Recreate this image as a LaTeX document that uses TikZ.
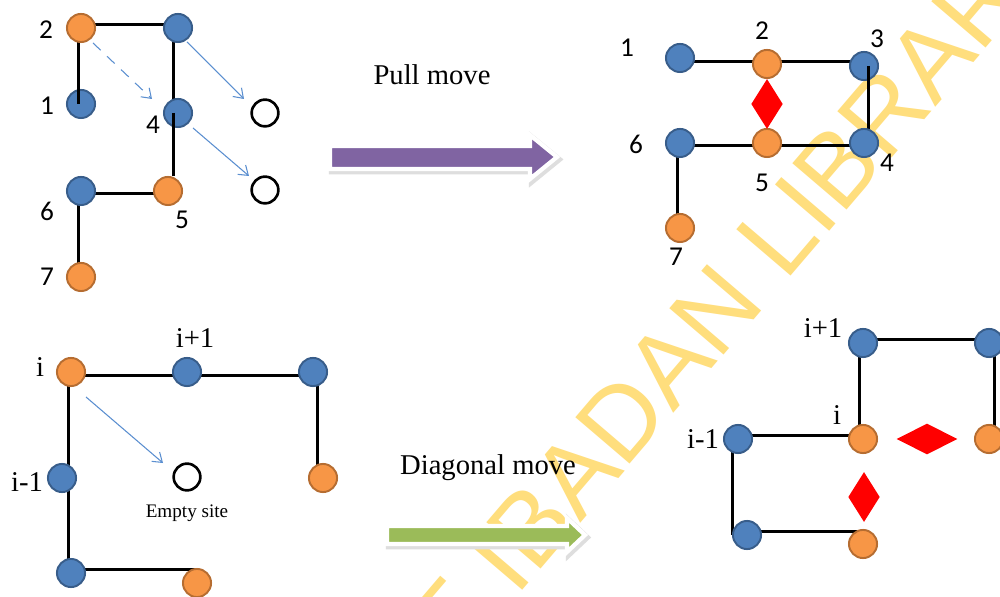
\documentclass[tikz,border=0pt]{standalone}
\usepackage{fontspec}
\setmainfont{Liberation Serif}
\newfontfamily\calfont{Carlito}
\newfontfamily\wmfont{Liberation Sans}
\usetikzlibrary{shapes.geometric,arrows.meta}
\pgfdeclarelayer{wmlayer}
\pgfdeclarelayer{bglayer}
\pgfsetlayers{wmlayer,bglayer,main}
\definecolor{nblue}{HTML}{4F81BD}
\definecolor{nblueD}{HTML}{385D8A}
\definecolor{norange}{HTML}{F79646}
\definecolor{norangeD}{HTML}{B66D31}
\definecolor{arrowblue}{HTML}{5B8FD0}
\definecolor{mvpurple}{HTML}{8064A2}
\definecolor{mvgreen}{HTML}{9BBB59}
\definecolor{wmyellow}{RGB}{255,222,125}
\begin{document}
\begin{tikzpicture}[x=0.02cm,y=-0.02cm,
  bnode/.style={circle,fill=nblue,draw=nblueD,line width=1.1pt,minimum size=16pt,inner sep=0pt},
  onode/.style={circle,fill=norange,draw=norangeD,line width=1.1pt,minimum size=16pt,inner sep=0pt},
  enode/.style={circle,draw=black,line width=1.5pt,minimum size=15.2pt,inner sep=0pt},
  link/.style={line width=1.7pt,draw=black},
  num/.style={font=\calfont\fontsize{15.5}{18}\selectfont,inner sep=0pt},
  tlab/.style={font=\fontsize{16.3}{19}\selectfont,inner sep=0pt},
  slab/.style={font=\fontsize{10.9}{13}\selectfont,inner sep=0pt},
  movearrow/.style={draw=arrowblue,line width=0.6pt,-{Straight Barb[length=5pt,width=7pt]}},
  redmark/.style={diamond,fill=red,inner sep=0pt},
  blockshadow/.style={fill=black!13,draw=black!13,line width=3.4pt,line join=miter,xshift=1pt,yshift=-1.4pt},
  blockarrow/.style={draw=white,line width=2.4pt,line join=miter},
  wmtext/.style={font=\wmfont\fontsize{59}{66}\selectfont,text=wmyellow,inner sep=0pt}
]
\useasboundingbox (0,0) rectangle (1000,597);
\clip (0,0) rectangle (1000,597);

% background and watermark
\begin{pgfonlayer}{wmlayer}
\fill[white] (0,0) rectangle (1000,597);
\node[wmtext,rotate=49.5] (wmark) at (500,562) {UNIVERSITY OF IBADAN LIBRARY};
\end{pgfonlayer}

% ---------- top-left chain ----------
\node[onode] (a2) at (81,28) {};
\node[bnode] (a3) at (178,28) {};
\node[bnode] (a1) at (81,104) {};
\node[bnode] (a4) at (178,113) {};
\node[onode] (a5) at (168,191) {};
\node[bnode] (a6) at (81,191) {};
\node[onode] (a7) at (81,277) {};
\node[enode] (e1) at (265,113) {};
\node[enode] (e2) at (265,190) {};
\begin{pgfonlayer}{bglayer}
\draw[link] ([yshift=2pt]a2.center) -- ([yshift=2pt]a3.center);
\draw[link] ([xshift=-1.5pt]a2.center) -- ([xshift=-1.5pt]a1.center);
\draw[link] ([xshift=-2.5pt]a3.center) -- ([xshift=-2.5pt]a4.center);
\draw[link] ([xshift=-2.5pt]a4.center) -- ([xshift=-2.5pt]a5.north -| a4.center);
\draw[link] ([yshift=-1.5pt]a6.center) -- ([yshift=-1.5pt]a5.center);
\draw[link] ([xshift=-1.5pt]a6.center) -- ([xshift=-1.5pt]a7.center);
\end{pgfonlayer}
\draw[link] ([xshift=-1.5pt]a1.north) -- ([xshift=-1.5pt]a1.center);
\draw[link] ([xshift=-2.5pt]a4.center) -- ([xshift=-2.5pt]a4.south);
\node[num] (la2) at (46,30) {2};
\node[num] (la1) at (47,106) {1};
\node[num] (la4) at (153,125) {4};
\node[num] (la6) at (47,211) {6};
\node[num] (la5) at (182,220) {5};
\node[num] (la7) at (47,277) {7};
\coordinate (d0) at (93,43);
\coordinate (d1) at (152,99);
\coordinate (m1a) at (187,42);
\coordinate (m1b) at (244,99);
\coordinate (m2a) at (193,128);
\coordinate (m2b) at (249,176);
\draw[movearrow,dash pattern=on 6pt off 5pt] (d0) -- (d1);
\draw[movearrow] (m1a) -- (m1b);
\draw[movearrow] (m2a) -- (m2b);

% ---------- Pull move ----------
\node[tlab] (pull) at (432,75) {Pull move};
\filldraw[blockshadow] (330,146) -- (530,146) -- (530,135) -- (557,157) -- (530,179) -- (530,169) -- (330,169) -- cycle;
\filldraw[blockarrow,fill=mvpurple] (330,146) -- (530,146) -- (530,135) -- (557,157) -- (530,179) -- (530,169) -- (330,169) -- cycle;

% ---------- top-right chain ----------
\node[bnode] (b1) at (680,58) {};
\node[onode] (b2) at (767,64) {};
\node[bnode] (b3) at (864,66) {};
\node[bnode] (b4) at (864,143) {};
\node[onode] (b5) at (767,143) {};
\node[bnode] (b6) at (680,143) {};
\node[onode] (b7) at (680,228) {};
\begin{pgfonlayer}{bglayer}
\draw[link] ([yshift=-2pt]b1.center) -- ([yshift=-2pt]b1.center -| b3.center);
\draw[link] ([xshift=2.5pt]b3.center) -- ([xshift=2.5pt]b4.center);
\draw[link] ([yshift=-1.5pt]b6.center) -- ([yshift=-1.5pt]b4.center);
\draw[link] ([xshift=-1.5pt]b6.center) -- ([xshift=-1.5pt]b7.center);
\end{pgfonlayer}
\draw[link] ([xshift=2.5pt]b3.center) -- ([xshift=2.5pt]b3.south);
\node[redmark,minimum width=18pt,minimum height=28.5pt] (r1) at (767,104) {};
\node[num] (lb1) at (627,48) {1};
\node[num] (lb2) at (762,31) {2};
\node[num] (lb3) at (877,39) {3};
\node[num] (lb6) at (636,144) {6};
\node[num] (lb4) at (887,163) {4};
\node[num] (lb5) at (762,183) {5};
\node[num] (lb7) at (676,257) {7};

% ---------- bottom-left chain ----------
\node[onode] (c1) at (71,372) {};
\node[bnode] (c2) at (187,372) {};
\node[bnode] (c3) at (313,372) {};
\node[onode] (c4) at (323,478) {};
\node[bnode] (c0) at (62,478) {};
\node[bnode] (c9) at (71,573) {};
\node[onode] (c8) at (197,583) {};
\node[enode] (ce) at (187,477) {};
\begin{pgfonlayer}{bglayer}
\draw[link] ([yshift=-2pt]c1.center) -- ([yshift=-2pt]c3.center);
\draw[link] ([xshift=2.8pt]c3.center) -- ([xshift=2.8pt]c3.center |- c4.center);
\draw[link] ([xshift=-1.5pt]c1.center) -- ([xshift=-1.5pt]c1.center |- c9.center);
\draw[link] ([yshift=2pt]c9.center) -- ([yshift=2pt]c9.center -| c8.center);
\end{pgfonlayer}
\node[tlab] (lc1) at (40,367) {i};
\node[tlab] (lc2) at (195,338) {i+1};
\node[tlab] (lc0) at (27,482) {i-1};
\node[slab] (lce) at (187,513) {Empty site};
\coordinate (m3a) at (86,397);
\coordinate (m3b) at (163,463);
\draw[movearrow] (m3a) -- (m3b);

% ---------- Diagonal move ----------
\node[tlab] (diag) at (488,468) {Diagonal move};
\filldraw[blockshadow] (387,526) -- (567,526) -- (567,518) -- (585,535) -- (567,552) -- (567,544) -- (387,544) -- cycle;
\filldraw[blockarrow,fill=mvgreen] (387,526) -- (567,526) -- (567,518) -- (585,535) -- (567,552) -- (567,544) -- (387,544) -- cycle;

% ---------- bottom-right chain ----------
\node[bnode] (d2) at (863,343) {};
\node[bnode] (d3) at (989,343) {};
\node[onode] (dd1) at (863,439) {};
\node[onode] (d4) at (989,439) {};
\node[bnode] (dd0) at (738,439) {};
\node[bnode] (d9) at (747,535) {};
\node[onode] (d8) at (863,544) {};
\begin{pgfonlayer}{bglayer}
\draw[link] ([yshift=2pt]d2.center) -- ([yshift=2pt]d3.center);
\draw[link] ([xshift=-2pt]d2.center) -- ([xshift=-2pt]dd1.center);
\draw[link] ([xshift=3pt]d3.center) -- ([xshift=3pt]d4.center);
\draw[link] ([yshift=2pt]dd0.center) -- ([yshift=2pt]dd1.center);
\draw[link] ([xshift=-3pt]dd0.center) -- ([xshift=-3pt]dd0.center |- d9.center);
\draw[link] ([yshift=2pt]d9.center) -- ([yshift=2pt]d9.center -| d8.center);
\end{pgfonlayer}
\node[redmark,minimum width=34.7pt,minimum height=17.6pt] (r2) at (927,439) {};
\node[redmark,minimum width=18pt,minimum height=28.5pt] (r3) at (864,497) {};
\node[tlab] (ld2) at (823,328) {i+1};
\node[tlab] (ld1) at (837,415) {i};
\node[tlab] (ld0) at (703,439) {i-1};
\end{tikzpicture}
\end{document}
